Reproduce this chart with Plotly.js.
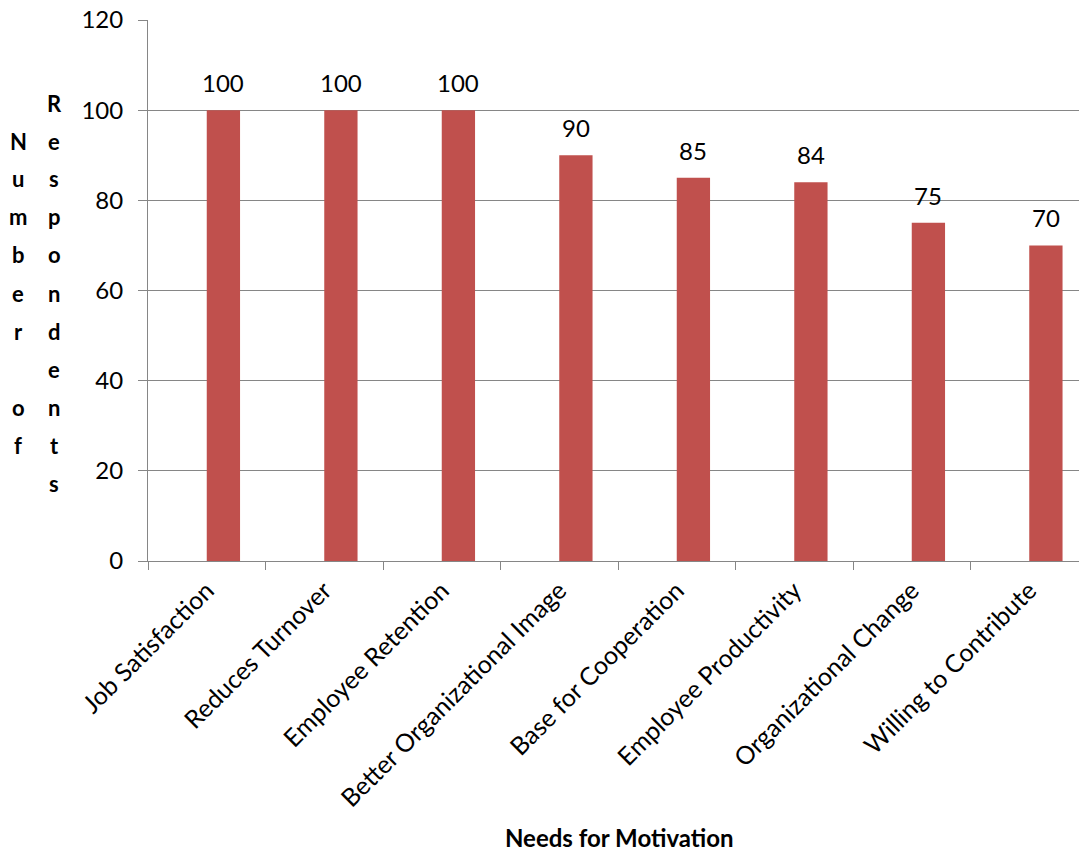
<!DOCTYPE html>
<html>
<head>
<meta charset="utf-8">
<script src="https://cdn.plot.ly/plotly-3.0.1.min.js"></script>
<style>html,body{margin:0;padding:0;background:#fff;}#chart{width:1079px;height:852px;}</style>
</head>
<body>
<div id="chart"></div>
<script>
const categories = ["Job Satisfaction", "Reduces Turnover", "Employee Retention", "Better Organizational Image", "Base for Cooperation", "Employee Productivity", "Organizational Change", "Willing to Contribute"];
const values = [100, 100, 100, 90, 85, 84, 75, 70];
const yTickVals = [0, 20, 40, 60, 80, 100, 120];
const yTitleColumns = ["Number of", "Respondents"];
const xTitle = "Needs for Motivation";

const FONT = "Lato, Calibri, 'Open Sans', sans-serif";
const W = 1079, H = 852;
const M = {l: 148, r: 0, t: 20, b: 291};
const plotW = W - M.l - M.r, plotH = H - M.t - M.b;
const catPx = 117.5;
const barW = 33.3 / catPx;

const annotations = [];
// data labels
values.forEach((v, i) => {
  annotations.push({
    x: categories[i], y: v, xref: 'x', yref: 'y',
    text: String(v), showarrow: false,
    xshift: barW * catPx / 2, yshift: 11, yanchor: 'bottom',
    font: {family: FONT, size: 24, color: '#000'}
  });
});
// stacked vertical y-axis title (two columns)
const colX = [18, 54];
const lineH = 38;
const firstLineY = 103;
const maxLen = Math.max(...yTitleColumns.map(s => s.length));
yTitleColumns.forEach((word, c) => {
  const start = Math.round((maxLen - word.length) / 2);
  word.split('').forEach((ch, k) => {
    if (ch === ' ') return;
    const py = firstLineY + (start + k) * lineH;
    annotations.push({
      xref: 'paper', yref: 'paper',
      x: (colX[c] - M.l) / plotW, y: (H - M.b - py) / plotH,
      xanchor: 'center', yanchor: 'middle',
      text: '<b>' + ch + '</b>', showarrow: false,
      font: {family: FONT, size: 22, color: '#000'}
    });
  });
});
// x-axis title
annotations.push({
  xref: 'paper', yref: 'paper',
  x: (619 - M.l) / plotW, y: -(837 - (H - M.b)) / plotH,
  xanchor: 'center', yanchor: 'middle',
  text: '<b>' + xTitle + '</b>', showarrow: false,
  font: {family: FONT, size: 24, color: '#000'}
});

const trace = {
  type: 'bar', x: categories, y: values,
  width: barW, offset: 0,
  marker: {color: '#C0504D'},
  hoverinfo: 'none'
};

const layout = {
  width: W, height: H,
  margin: M,
  paper_bgcolor: '#fff', plot_bgcolor: '#fff',
  showlegend: false,
  font: {family: FONT, size: 24, color: '#000'},
  xaxis: {
    type: 'category',
    range: [-0.5, -0.5 + plotW / catPx],
    tickson: 'boundaries',
    ticks: 'outside', ticklen: 8, tickcolor: '#868686', tickwidth: 1,
    showline: true, linecolor: '#868686', linewidth: 1,
    showgrid: false, zeroline: false,
    tickangle: -45,
    ticklabelstandoff: 4,
    tickfont: {family: FONT, size: 25, color: '#000'}
  },
  yaxis: {
    range: [0, 120],
    tickvals: yTickVals,
    ticks: 'outside', ticklen: 9, tickcolor: '#868686', tickwidth: 1,
    showline: true, linecolor: '#868686', linewidth: 1,
    showgrid: true, gridcolor: '#868686', gridwidth: 1,
    zeroline: false,
    ticklabelstandoff: 10,
    tickfont: {family: FONT, size: 24, color: '#000'}
  },
  annotations: annotations
};

Plotly.newPlot('chart', [trace], layout, {staticPlot: true, displayModeBar: false});
</script>
</body>
</html>
